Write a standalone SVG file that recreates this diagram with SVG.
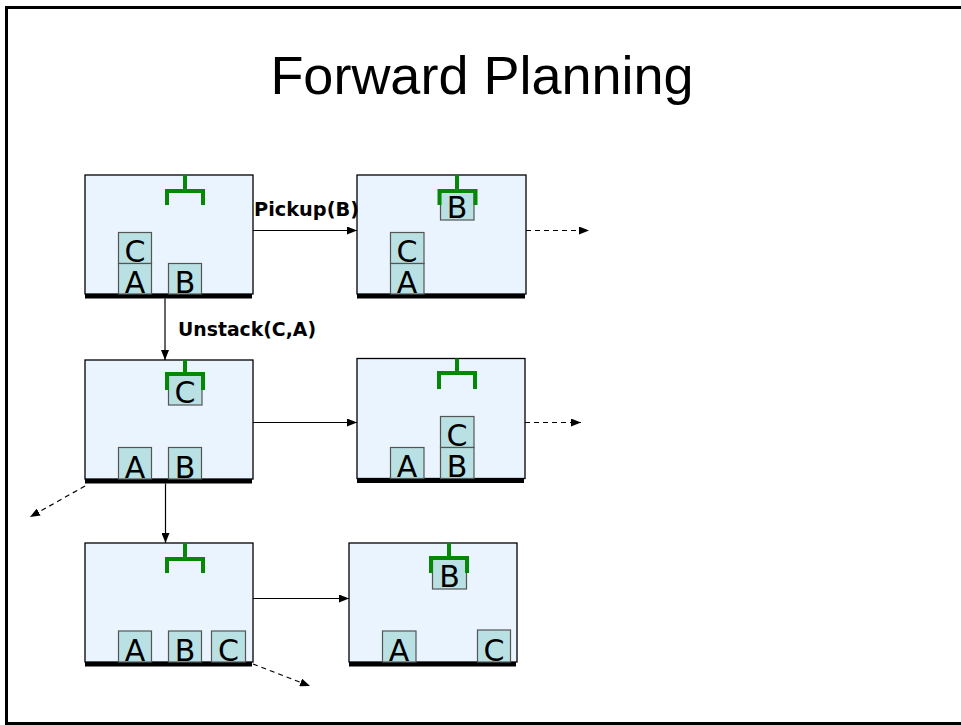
<svg xmlns="http://www.w3.org/2000/svg" width="961" height="725" viewBox="0 0 961 725">
  <defs>
    <marker id="head" viewBox="0 0 10 8" refX="10" refY="4" markerWidth="10" markerHeight="8" markerUnits="userSpaceOnUse" orient="auto">
      <path d="M0,0 L10,4 L0,8 Z" fill="#000"/>
    </marker>
  </defs>
  <style>
    .frame { fill: #fff; stroke: #000; stroke-width: 3; }
    .title { font-family: "Liberation Sans", Arial, sans-serif; font-size: 54px; fill: #000; }
    .state { fill: #eaf4fe; stroke: #000; stroke-width: 1.3; }
    .ground { fill: #000; }
    .block { fill: #b9e0e3; stroke: #555; stroke-width: 1.2; }
    .blabel { font-family: "DejaVu Sans", Verdana, sans-serif; font-size: 30px; fill: #000; text-anchor: middle; }
    .grip { fill: none; stroke: #068806; stroke-width: 4; stroke-linecap: butt; stroke-linejoin: miter; }
    .arrow { fill: none; stroke: #000; stroke-width: 1.2; marker-end: url(#head); }
    .dash { stroke-dasharray: 5 4; }
    .act { font-family: "DejaVu Sans", Verdana, sans-serif; font-weight: bold; font-size: 20px; fill: #000; }
  </style>

  <!-- slide frame -->
  <rect class="frame" x="6.5" y="7.5" width="962" height="716"/>

  <text class="title" x="482" y="94" text-anchor="middle">Forward Planning</text>

  <!-- state: C on A, B on table, hand empty -->
  <g id="state1">
    <rect class="state" x="85" y="175" width="168" height="119"/>
    <rect class="ground" x="85" y="294" width="167" height="4.5"/>
    <path class="grip" d="M185,175 V191 M167,205 V191 H203 V205"/>
    <rect class="block" x="118.5" y="232.5" width="33" height="31"/>
    <text class="blabel" x="135" y="262">C</text>
    <rect class="block" x="118.5" y="263.5" width="33" height="30.5"/>
    <text class="blabel" x="135" y="293">A</text>
    <rect class="block" x="168.5" y="263.5" width="33" height="30.5"/>
    <text class="blabel" x="185" y="293">B</text>
  </g>

  <!-- state: holding B -->
  <g id="state2">
    <rect class="state" x="357" y="175" width="169" height="119"/>
    <rect class="ground" x="357" y="294" width="168" height="4.5"/>
    <rect class="block" x="440.5" y="190" width="33.5" height="30"/>
    <text class="blabel" x="457" y="218">B</text>
    <path class="grip" d="M457,175 V191 M439.5,205 V191 H475.5 V205"/>
    <rect class="block" x="390.5" y="232.5" width="33.5" height="31"/>
    <text class="blabel" x="407" y="262">C</text>
    <rect class="block" x="390.5" y="263.5" width="33.5" height="30.5"/>
    <text class="blabel" x="407" y="293">A</text>
  </g>

  <!-- state: holding C -->
  <g id="state3">
    <rect class="state" x="85" y="360" width="168" height="119"/>
    <rect class="ground" x="85" y="479" width="167" height="4.5"/>
    <rect class="block" x="168.5" y="373" width="33.5" height="32"/>
    <text class="blabel" x="185" y="403">C</text>
    <path class="grip" d="M185,360 V374 M167,390 V374 H203 V390"/>
    <rect class="block" x="118.5" y="447.5" width="33" height="31.5"/>
    <text class="blabel" x="135" y="478">A</text>
    <rect class="block" x="168.5" y="447.5" width="33" height="31.5"/>
    <text class="blabel" x="185" y="478">B</text>
  </g>

  <!-- state: C on B -->
  <g id="state4">
    <rect class="state" x="357" y="358.5" width="168" height="120"/>
    <rect class="ground" x="357" y="478.5" width="167" height="4.5"/>
    <path class="grip" d="M457,358.5 V373 M439,389 V373 H475 V389"/>
    <rect class="block" x="440.5" y="416.5" width="33.5" height="31"/>
    <text class="blabel" x="457" y="446">C</text>
    <rect class="block" x="440.5" y="447.5" width="33.5" height="31"/>
    <text class="blabel" x="457" y="477">B</text>
    <rect class="block" x="390.5" y="447.5" width="33.5" height="31"/>
    <text class="blabel" x="407" y="477">A</text>
  </g>

  <!-- state: all on table -->
  <g id="state5">
    <rect class="state" x="85" y="543" width="168" height="119"/>
    <rect class="ground" x="85" y="662" width="167" height="4.5"/>
    <path class="grip" d="M185,543 V559 M167,573 V559 H203 V573"/>
    <rect class="block" x="118.5" y="631" width="33" height="31"/>
    <text class="blabel" x="135" y="661">A</text>
    <rect class="block" x="168.5" y="631" width="33" height="31"/>
    <text class="blabel" x="185" y="661">B</text>
    <rect class="block" x="211.5" y="631" width="34" height="31"/>
    <text class="blabel" x="228.5" y="661">C</text>
  </g>

  <!-- state: holding B, A and C on table -->
  <g id="state6">
    <rect class="state" x="349" y="543" width="168" height="119"/>
    <rect class="ground" x="349" y="662" width="167" height="4.5"/>
    <rect class="block" x="432.5" y="557.5" width="34" height="31.5"/>
    <text class="blabel" x="449.5" y="587">B</text>
    <path class="grip" d="M449,543 V558 M431,573 V558 H467 V573"/>
    <rect class="block" x="382.5" y="631" width="33.5" height="31"/>
    <text class="blabel" x="399" y="661">A</text>
    <rect class="block" x="477.5" y="630" width="33" height="32"/>
    <text class="blabel" x="494" y="661">C</text>
  </g>

  <!-- transitions -->
  <g id="connectors">
    <line class="arrow" x1="253" y1="230.5" x2="357" y2="230.5"/>
    <line class="arrow" x1="165" y1="298.5" x2="165" y2="360"/>
    <line class="arrow" x1="253" y1="422.5" x2="357" y2="422.5"/>
    <line class="arrow" x1="165.5" y1="483.5" x2="165.5" y2="543"/>
    <line class="arrow" x1="253" y1="598.5" x2="349" y2="598.5"/>
    <line class="arrow dash" x1="526" y1="230.5" x2="589" y2="230.5"/>
    <line class="arrow dash" x1="525" y1="422.5" x2="581" y2="422.5"/>
    <line class="arrow dash" x1="85" y1="486" x2="30" y2="517"/>
    <line class="arrow dash" x1="253" y1="664" x2="310" y2="686"/>
    <text class="act" x="254" y="216" textLength="105" lengthAdjust="spacingAndGlyphs">Pickup(B)</text>
    <text class="act" x="178" y="336" textLength="138" lengthAdjust="spacingAndGlyphs">Unstack(C,A)</text>
  </g>
</svg>
